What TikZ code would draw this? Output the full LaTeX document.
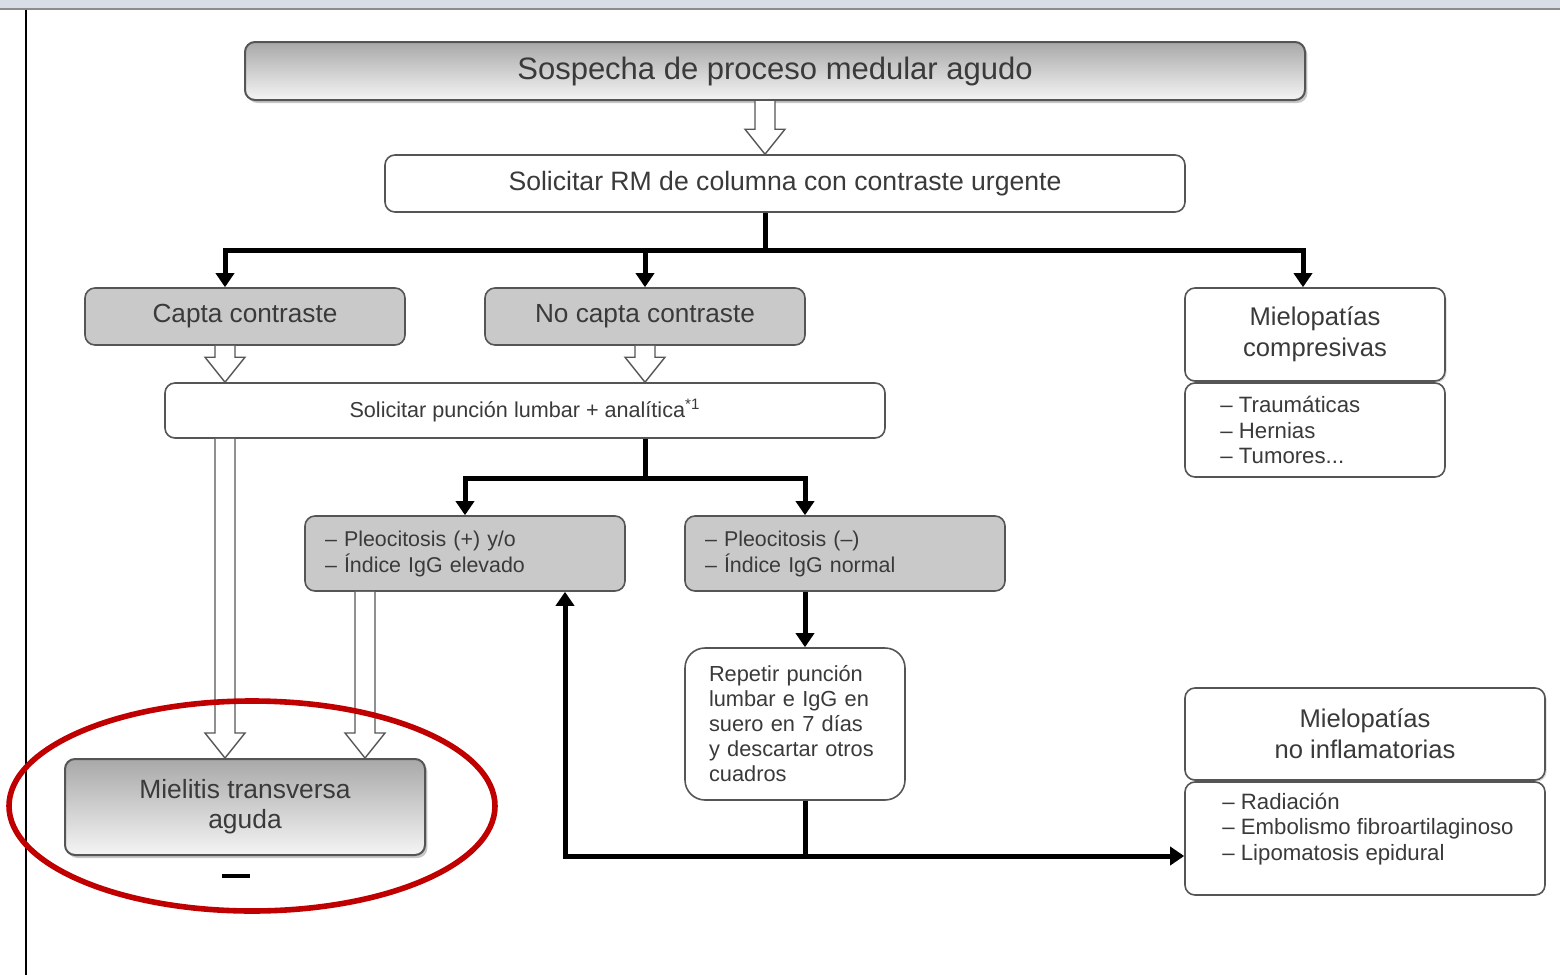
\documentclass[tikz,border=0pt]{standalone}
\usepackage{fontspec}
\setmainfont{Liberation Sans}
\usetikzlibrary{arrows.meta,calc,shadows}
\definecolor{txt}{HTML}{3A3A3A}
\definecolor{edge}{HTML}{555555}
\definecolor{grayfill}{HTML}{C9C9C9}
\definecolor{ringred}{HTML}{C00000}
\definecolor{topbar}{HTML}{D9DEE6}
\newcommand\hollowarrow[3]{%
  \path (#1 |- #2) coordinate (ha-s) (#1 |- #3) coordinate (ha-e);
  \draw[harrow] ($(ha-s)+(-10,0)$) -- ($(ha-e)+(-10,-25)$) -- ($(ha-e)+(-20,-25)$) -- (ha-e)
    -- ($(ha-e)+(20,-25)$) -- ($(ha-e)+(10,-25)$) -- ($(ha-s)+(10,0)$);}
\begin{document}
\begin{tikzpicture}[x=0.5pt,y=-0.5pt,
  box/.style={draw=edge, line width=0.8pt, rounded corners=5pt, inner sep=0pt, text=txt, align=center},
  graybox/.style={box, fill=grayfill},
  whitebox/.style={box, fill=white},
  gradbox/.style={box, line width=1pt, top color=black!34, bottom color=black!4,
     drop shadow={shadow xshift=1.2pt, shadow yshift=-1.5pt, opacity=0.45}},
  conn/.style={line width=2.5pt, -{Triangle[length=7pt,width=9pt]}},
  trunk/.style={line width=2.5pt},
  harrow/.style={draw=edge, line width=0.7pt, fill=white, line join=miter},
  listtxt/.style={text=txt, align=left, inner sep=0pt, anchor=west, font=\fontsize{11.1}{12.8}\selectfont},
]
\useasboundingbox (0,0) rectangle (1560,975);
% page frame
\fill[topbar] (0,0) rectangle (1560,8);
\draw[black!45, line width=0.6pt] (0,9) -- (1560,9);
\draw[black, line width=1pt] (26,10) -- (26,975);

% nodes
\node[gradbox, minimum width=530pt, minimum height=29pt, font=\fontsize{15.5}{18}\selectfont] (top) at (775,71) {Sospecha de proceso medular agudo};
\node[whitebox, minimum width=400pt, minimum height=28.5pt, font=\fontsize{13.3}{15}\selectfont] (rm) at (785,183.5) {Solicitar RM de columna con contraste urgente};
\node[graybox, minimum width=160pt, minimum height=28.5pt, font=\fontsize{13.1}{15}\selectfont] (capta) at (245,316.5) {Capta contraste};
\node[graybox, minimum width=160pt, minimum height=28.5pt, font=\fontsize{13.1}{15}\selectfont] (nocapta) at (645,316.5) {No capta contraste};
\node[whitebox, minimum width=130pt, minimum height=46.5pt, font=\fontsize{12.8}{15.5}\selectfont,
  drop shadow={shadow xshift=0.8pt, shadow yshift=-0.8pt, opacity=0.3}] (mc) at (1315,334.5) {Mielopatías\\compresivas};
\node[whitebox, minimum width=130pt, minimum height=47pt] (mclist) at (1315,430) {};
\node[listtxt] (mctxt) at (1220,430) {– Traumáticas\\– Hernias\\– Tumores...};
\node[whitebox, minimum width=360pt, minimum height=27.5pt, font=\fontsize{10.8}{12}\selectfont] (punc) at (525,410.5) {Solicitar punción lumbar + analítica\textsuperscript{*1}};
\node[graybox, minimum width=160pt, minimum height=37.5pt, text width=140pt, align=left, font=\fontsize{10.7}{13}\selectfont] (pleopos) at (465,553.5) {– Pleocitosis (+) y/o\\– Índice IgG elevado};
\node[graybox, minimum width=160pt, minimum height=37.5pt, text width=140pt, align=left, font=\fontsize{10.7}{13}\selectfont] (pleoneg) at (845,553.5) {– Pleocitosis (–)\\– Índice IgG normal};
\node[whitebox, rounded corners=10pt, minimum width=110pt, minimum height=76pt, text width=86pt, align=left, font=\fontsize{10.9}{12.5}\selectfont] (rep) at (795,724) {Repetir punción\\lumbar e IgG en\\suero en 7 días\\y descartar otros\\cuadros};
\node[whitebox, minimum width=180pt, minimum height=46pt, font=\fontsize{12.8}{15.5}\selectfont,
  drop shadow={shadow xshift=0.8pt, shadow yshift=-0.8pt, opacity=0.3}] (mn) at (1365,734) {Mielopatías\\no inflamatorias};
\node[whitebox, minimum width=180pt, minimum height=56.5pt] (mnlist) at (1365,838.5) {};
\node[listtxt] (mntxt) at (1222,829) {– Radiación\\– Embolismo fibroartilaginoso\\– Lipomatosis epidural};
\node[gradbox, minimum width=180pt, minimum height=48pt, font=\fontsize{13.2}{15}\selectfont] (mt) at (245,807) {Mielitis transversa\\aguda};

% helper x positions
\coordinate (x225) at (225,0);
\coordinate (x365) at (365,0);
\coordinate (x465) at (465,0);
\coordinate (x565) at (565,0);
\coordinate (x645) at (645,0);
\coordinate (x765) at (765,0);
\coordinate (x805) at (805,0);
\coordinate (x1303) at (1303,0);

% hollow arrows
\hollowarrow{x765}{top.south}{rm.north}
\hollowarrow{x225}{capta.south}{punc.north}
\hollowarrow{x645}{nocapta.south}{punc.north}
\hollowarrow{x225}{punc.south}{mt.north}
\hollowarrow{x365}{pleopos.south}{mt.north}

% solid connectors
\coordinate (j1) at (765,250);
\draw[trunk] (x765 |- rm.south) -- (j1);
\draw[conn] (j1) -| (x225 |- capta.north);
\draw[conn] (j1) -| (x645 |- nocapta.north);
\draw[conn] (j1) -| (x1303 |- mc.north);
\coordinate (j2) at (645,478);
\draw[trunk] (x645 |- punc.south) -- (j2);
\draw[conn] (j2) -| (x465 |- pleopos.north);
\draw[conn] (j2) -| (x805 |- pleoneg.north);
\draw[conn] (x805 |- pleoneg.south) -- (x805 |- rep.north);
\coordinate (j3) at (805,856);
\draw[trunk] (x805 |- rep.south) -- (j3);
\draw[conn] (j3) -- (j3 -| mnlist.west);
\draw[conn] (j3) -| (x565 |- pleopos.south);

% small mark and red ring
\fill[black] (222,874) rectangle (250,878);
\draw[ringred, line width=2.8pt] (252,806) ellipse [x radius=243, y radius=105];
\end{tikzpicture}
\end{document}
